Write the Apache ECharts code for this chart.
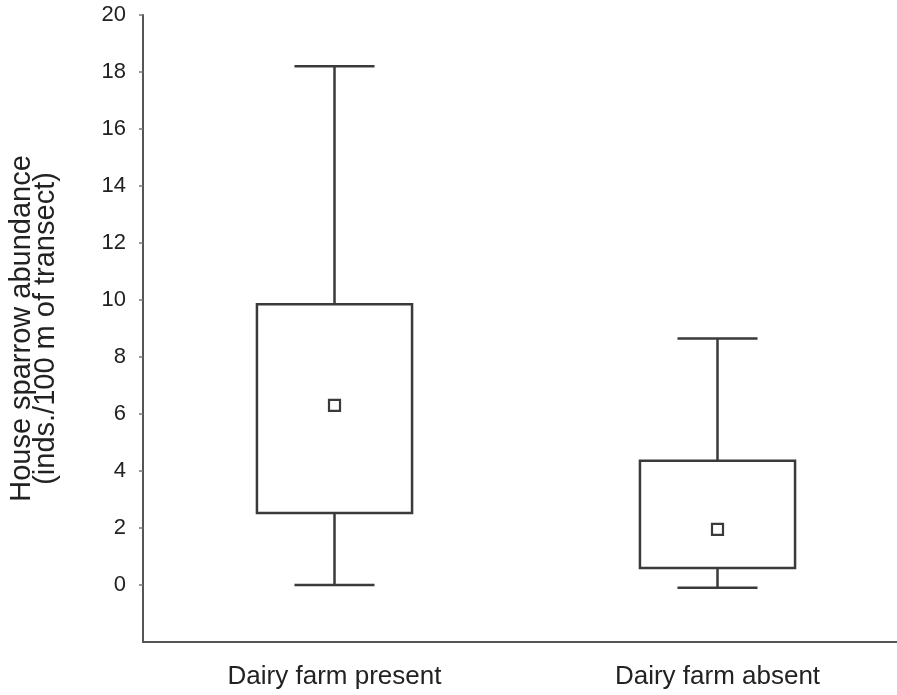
<!DOCTYPE html>
<html>
<head>
<meta charset="utf-8">
<script src="https://cdn.jsdelivr.net/npm/echarts@6/dist/echarts.min.js"></script>
<style>html,body{margin:0;padding:0;background:#fff;}#c{width:897px;height:695px;}</style>
</head>
<body>
<div id="c"></div>
<script>
const categories = ['Dairy farm present', 'Dairy farm absent'];
const whiskerLow = [0, -0.1];
const q1 = [2.53, 0.6];
const q3 = [9.85, 4.36];
const whiskerHigh = [18.2, 8.65];
const means = [6.3, 1.95];
const yTicks = [0, 2, 4, 6, 8, 10, 12, 14, 16, 18, 20];

const rows = categories.map((c, i) => [i, whiskerLow[i], q1[i], q3[i], whiskerHigh[i], means[i]]);

const LINE = '#3a3a3a';
const FONT = 'Liberation Sans, Arial, sans-serif';
const chart = echarts.init(document.getElementById('c'));
chart.setOption({
  backgroundColor: '#fff',
  animation: false,
  grid: { left: 143, right: -12, top: 15, bottom: 53, containLabel: false, outerBoundsMode: 'none' },
  xAxis: {
    type: 'category',
    data: categories,
    axisLine: { onZero: false, lineStyle: { color: '#555', width: 2 } },
    axisTick: { show: false },
    axisLabel: { color: '#222', fontSize: 26, fontFamily: FONT, margin: 22 }
  },
  yAxis: {
    type: 'value',
    min: -2, max: 20, interval: 2,
    name: 'House sparrow abundance\n(inds./100 m of transect)',
    nameLocation: 'middle',
    nameGap: 85,
    nameRotate: 90,
    nameTextStyle: { color: '#222', fontSize: 29, lineHeight: 24, fontFamily: FONT },
    splitLine: { show: false },
    axisLine: { show: true, lineStyle: { color: '#555', width: 2 } },
    axisTick: { show: true, length: 4, customValues: yTicks, lineStyle: { color: '#777', width: 1.5 } },
    axisLabel: { color: '#222', fontSize: 22, fontFamily: FONT, margin: 17, customValues: yTicks }
  },
  series: [{
    type: 'custom',
    data: rows,
    encode: { x: 0, y: [1, 2, 3, 4, 5] },
    renderItem: function (params, api) {
      const idx = api.value(0);
      const band = api.size([1, 0])[0];
      const boxW = band * 0.405;
      const capW = band * 0.209;
      const pLow = api.coord([idx, api.value(1)]);
      const pQ1 = api.coord([idx, api.value(2)]);
      const pQ3 = api.coord([idx, api.value(3)]);
      const pHigh = api.coord([idx, api.value(4)]);
      const pMean = api.coord([idx, api.value(5)]);
      const x = pQ1[0];
      const st = { stroke: LINE, lineWidth: 2.5, fill: null };
      const m = 11;
      return {
        type: 'group',
        children: [
          { type: 'line', shape: { x1: x, y1: pHigh[1], x2: x, y2: pQ3[1] }, style: st },
          { type: 'line', shape: { x1: x, y1: pQ1[1], x2: x, y2: pLow[1] }, style: st },
          { type: 'line', shape: { x1: x - capW / 2, y1: pHigh[1], x2: x + capW / 2, y2: pHigh[1] }, style: st },
          { type: 'line', shape: { x1: x - capW / 2, y1: pLow[1], x2: x + capW / 2, y2: pLow[1] }, style: st },
          { type: 'rect', shape: { x: x - boxW / 2, y: pQ3[1], width: boxW, height: pQ1[1] - pQ3[1] }, style: { stroke: LINE, lineWidth: 2.5, fill: '#fff' } },
          { type: 'rect', shape: { x: pMean[0] - m / 2, y: pMean[1] - m / 2, width: m, height: m }, style: { stroke: LINE, lineWidth: 2.2, fill: '#fff' } }
        ]
      };
    }
  }]
});
</script>
</body>
</html>
